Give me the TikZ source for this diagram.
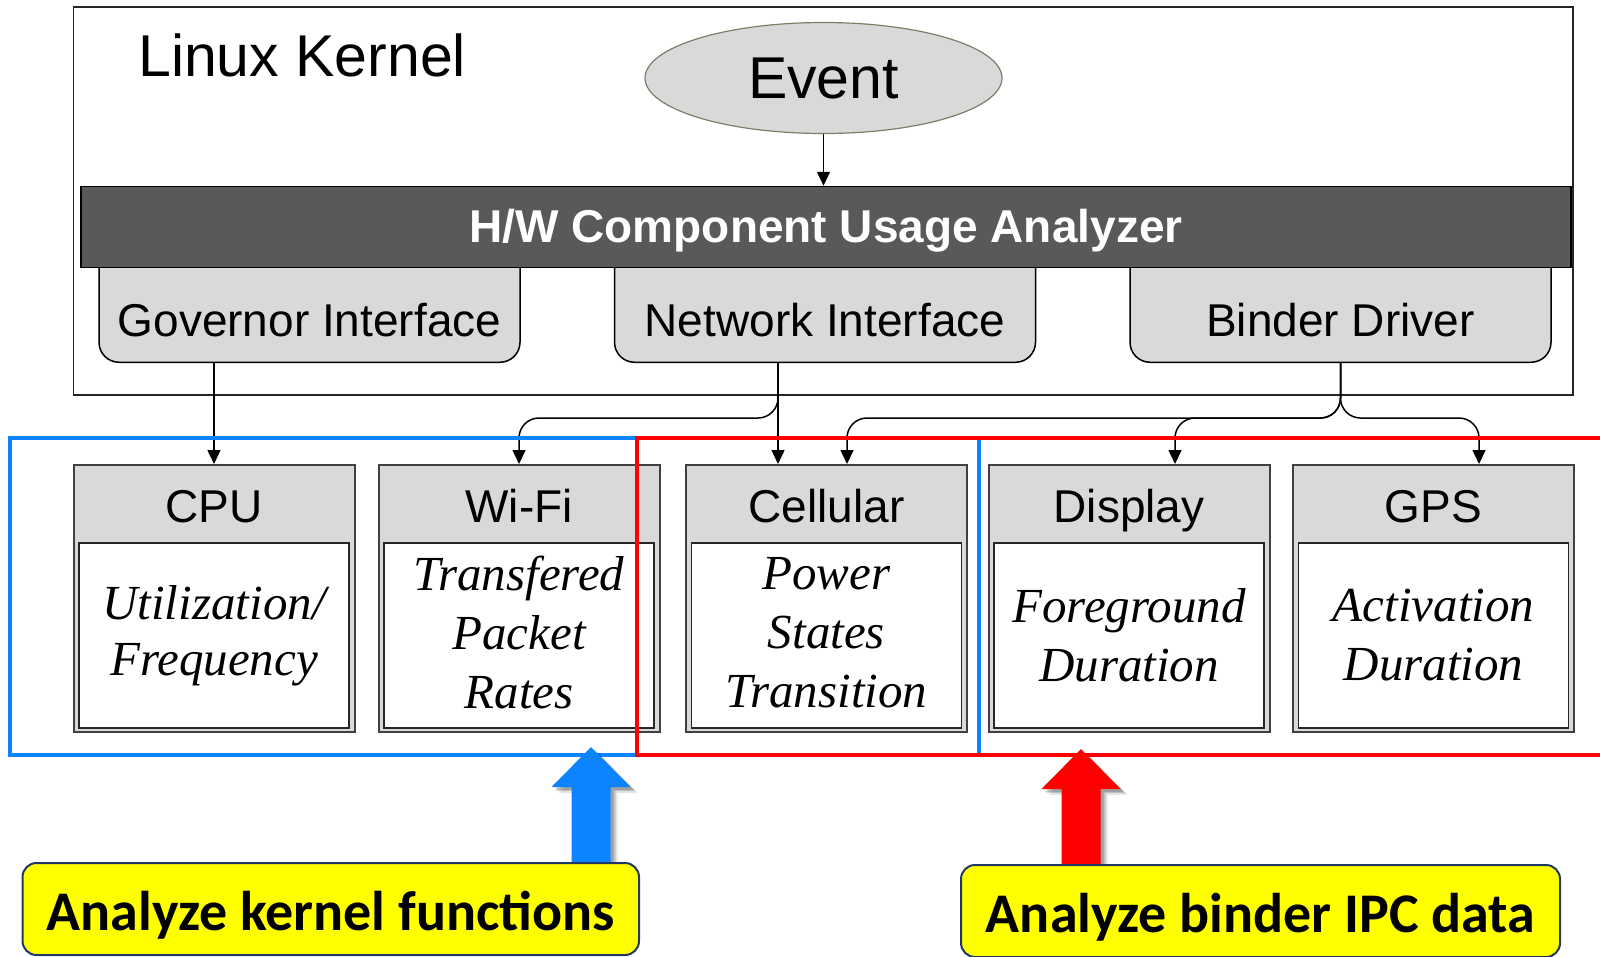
\documentclass[tikz,border=0pt]{standalone}
\usepackage{fontspec}
\setmainfont{Liberation Sans}
\newfontfamily\bodyserif{Liberation Serif}
\newfontfamily\tagfont{Carlito}
\usetikzlibrary{arrows.meta,calc,shapes.geometric,shadows}

\definecolor{boxgray}{RGB}{217,217,217}
\definecolor{bardark}{RGB}{89,89,89}
\definecolor{ellborder}{RGB}{125,125,105}
\definecolor{kblue}{RGB}{12,132,255}
\definecolor{kred}{RGB}{255,0,0}
\definecolor{tagyellow}{RGB}{255,255,0}
\definecolor{tagnavy}{RGB}{31,56,100}

\pgfdeclarelayer{tags}
\pgfsetlayers{main,tags}

\begin{document}
\begin{tikzpicture}[x=1pt,y=-1pt,
  kernelbox/.style={draw=black!85, line width=1.5pt, minimum width=1499.5pt, minimum height=388pt, inner sep=0pt},
  eventnode/.style={ellipse, draw=ellborder, line width=1.2pt, fill=boxgray, minimum width=357pt, minimum height=111pt, inner sep=0pt, font=\fontsize{59}{64}\selectfont},
  barbox/.style={draw=black, line width=1.5pt, fill=bardark, text=white, minimum width=1490pt, minimum height=81pt, inner sep=0pt, text height=35pt, text depth=5pt, font=\bfseries\fontsize{46}{50}\selectfont},
  ifacebox/.style={draw=black, line width=1.5pt, fill=boxgray, rounded corners=20pt, anchor=south, minimum width=421pt, minimum height=126pt, inner sep=0pt, text height=87pt, text depth=13pt, font=\fontsize{46}{50}\selectfont},
  compbox/.style={draw=black!75, line width=2pt, fill=boxgray, minimum width=281pt, minimum height=267pt, inner sep=0pt},
  comptitle/.style={anchor=base, inner sep=0pt, font=\fontsize{46}{50}\selectfont},
  compbody/.style={draw=black!85, line width=1.5pt, fill=white, minimum width=270pt, minimum height=185pt, inner sep=0pt, align=center, font=\bodyserif\itshape\fontsize{49}{59}\selectfont},
  conn/.style={line width=1.5pt, -{Triangle[width=13pt,length=14pt]}},
  branch/.style={conn, rounded corners=20pt},
  region/.style={line width=4pt},
  bigarrow/.style={
    drop shadow={shadow xshift=3pt, shadow yshift=-3pt, opacity=0.18, fill=black},
    drop shadow={shadow xshift=5pt, shadow yshift=-4pt, opacity=0.15, fill=black},
    drop shadow={shadow xshift=7pt, shadow yshift=-6pt, opacity=0.1, fill=black}},
  tagbox/.style={draw=tagnavy, line width=2pt, fill=tagyellow, rounded corners=14pt, inner sep=0pt, minimum height=92pt, text height=50pt, text depth=7pt, font=\tagfont\bfseries\fontsize{56}{60}\selectfont}
]
\useasboundingbox (0,0) rectangle (1600,956);
\clip (0,0) rectangle (1600,956);

% kernel frame and its title
\node[kernelbox] (kernel) at (823.25,201) {};
\node[anchor=base west, inner sep=0pt, font=\fontsize{59}{64}\selectfont] (ktitle) at (138,76.5) {Linux Kernel};

% event source
\node[eventnode] (event) at (823.5,78) {Event};

% kernel interfaces hanging below the analyzer bar
\node[ifacebox] (gov)  at (309.5,363) {Governor Interface};
\node[ifacebox] (net)  at (825,363)   {Network Interface};
\node[ifacebox] (bind) at (1340.5,363) {Binder Driver};

% analyzer bar
\node[barbox] (bar) at (826,227) {H/W Component Usage Analyzer};
\draw[conn] (event.south) -- (event.south |- bar.north);

% hardware components
\node[compbox] (cpu)  at (214,598.5)    {};
\node[compbox] (wifi) at (519,598.5)    {};
\node[compbox] (cell) at (826.5,598.5)  {};
\node[compbox] (disp) at (1129,598.5)   {};
\node[compbox] (gps)  at (1433.5,598.5) {};

\node[comptitle] (cpuT)  at ($(cpu.north)+(0,58.5)$)  {CPU};
\node[comptitle] (wifiT) at ($(wifi.north)+(0,58.5)$) {Wi-Fi};
\node[comptitle] (cellT) at ($(cell.north)+(0,58.5)$) {Cellular};
\node[comptitle] (dispT) at ($(disp.north)+(0,58.5)$) {Display};
\node[comptitle] (gpsT)  at ($(gps.north)+(0,58.5)$)  {GPS};

\node[compbody] (cpuB)  at ($(cpu.south)+(0,-97.5)$)  {\raisebox{-3pt}{Utilization/}\\Frequency};
\node[compbody] (wifiB) at ($(wifi.south)+(0,-97.5)$) {Transfered\\Packet\\Rates\rule[-6pt]{0pt}{6pt}};
\node[compbody] (cellB) at ($(cell.south)+(0,-97.5)$) {Power\\States\\Transition\rule[-6pt]{0pt}{6pt}};
\node[compbody] (dispB) at ($(disp.south)+(0,-97.5)$) {Foreground\\Duration};
\node[compbody] (gpsB)  at ($(gps.south)+(0,-97.5)$)  {Activation\\Duration};

% interface to component connectors
\draw[conn] (gov.south -| cpu.north) -- (cpu.north);
\draw[branch] ($(net.south)+(-47,0)$) |- ($(wifi.north)+(0,-46)$) -- (wifi.north);
\draw[conn] ($(net.south)+(-47,0)$) -- ($(cell.north)+(-48.5,0)$);
\draw[branch] (bind.south) |- ($(cell.north)+(20.5,-46)$) -- ($(cell.north)+(20.5,0)$);
\draw[branch] (bind.south) |- ($(disp.north)+(46,-46)$) -- ($(disp.north)+(46,0)$);
\draw[branch] (bind.south) |- ($(gps.north)+(45.5,-46)$) -- ($(gps.north)+(45.5,0)$);

% analysis regions
\draw[region, kblue] (10,438) rectangle (979,755);
\draw[region, kred] (637,438) rectangle (1640,755);

% analysis tags, kept on the top layer
\begin{pgfonlayer}{tags}
\node[tagbox, minimum width=616.5pt] (klabel) at (330.75,909) {Analyze kernel functions};
\node[tagbox, minimum width=599pt] (rlabel) at (1260.5,911) {Analyze binder IPC data};
\end{pgfonlayer}

% block arrows from the tags up to the regions
\coordinate (btip) at (591,747);
\coordinate (rtip) at (1081,749);
\fill[kblue, bigarrow] (btip) -- ($(btip)+(39.5,40)$) -- ($(btip)+(19.5,40)$)
  -- ($(klabel.north -| btip)+(19.5,4)$) -- ($(klabel.north -| btip)+(-19.5,4)$)
  -- ($(btip)+(-19.5,40)$) -- ($(btip)+(-39.5,40)$) -- cycle;
\fill[kred, bigarrow] (rtip) -- ($(rtip)+(39.5,40)$) -- ($(rtip)+(19.5,40)$)
  -- ($(rlabel.north -| rtip)+(19.5,4)$) -- ($(rlabel.north -| rtip)+(-19.5,4)$)
  -- ($(rtip)+(-19.5,40)$) -- ($(rtip)+(-39.5,40)$) -- cycle;
\end{tikzpicture}
\end{document}
